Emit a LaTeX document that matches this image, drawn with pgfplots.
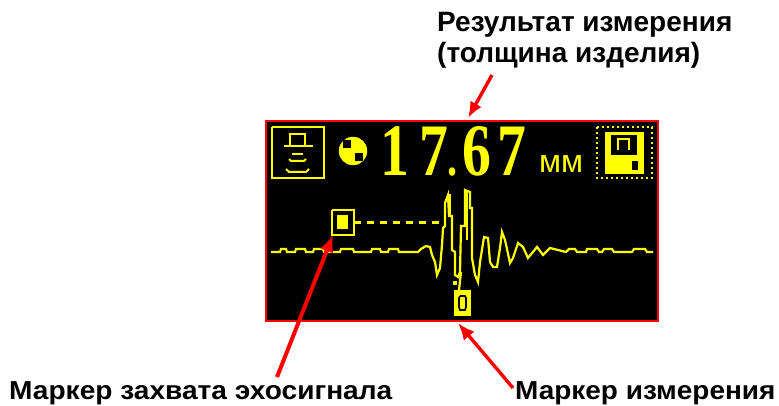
\documentclass[border=0pt]{standalone}
\usepackage{pgfplots}
\pgfplotsset{compat=1.18}
\usetikzlibrary{arrows.meta}
\usepackage{graphicx}
\usepackage{fontspec}
\setmainfont{Liberation Sans}
\newfontfamily\serifb{Liberation Serif}
\definecolor{yy}{RGB}{255,255,0}
\definecolor{rr}{RGB}{255,0,0}
\begin{document}
\begin{tikzpicture}
\begin{axis}[hide axis,scale only axis,width=779pt,height=406pt,xmin=0,xmax=779,ymin=0,ymax=406,y dir=reverse,clip=false,
  axis on top=false]
\addplot[fill=white,draw=none] coordinates {(0,0)(779,0)(779,406)(0,406)} --cycle;
% screen
\addplot[fill=black,draw=rr,line width=1.8pt] coordinates {(266,121)(658,121)(658,321)(266,321)} --cycle;
% left icon
\addplot[draw=yy,line width=2pt,no marks] coordinates {(272,127)(324,127)(324,178)(272,178)(272,127)};
\addplot[draw=yy,line width=2pt,no marks] coordinates {(290,146)(290,134)(305,134)(305,146)};
\addplot[draw=yy,line width=2pt,no marks] coordinates {(284,146)(313,146)};
\addplot[draw=yy,line width=2pt,no marks] coordinates {(292,154)(303,154)};
\addplot[draw=yy,line width=2pt,no marks] coordinates {(289,159)(291,161)(304,161)(306,159)};
\addplot[draw=yy,line width=2pt,no marks] coordinates {(286,169)(289,172)(306,172)(309,169)};
% ball
\addplot[only marks,mark=*,mark size=14pt,color=yy] coordinates {(353,151)};
\addplot[only marks,mark=square*,mark size=3.6pt,color=black] coordinates {(347,144)(359,157)};
% marker
\addplot[draw=yy,line width=2pt,no marks] coordinates {(332,210)(354,210)(354,235)(332,235)(332,210)};
\addplot[fill=yy,draw=none] coordinates {(337,215)(348,215)(348,229)(337,229)} --cycle;
\addplot[draw=yy,line width=2.4pt,dash pattern=on 7pt off 6pt,no marks] coordinates {(354,222.5)(445,222.5)};
% waveform
\addplot[draw=yy,line width=2.2pt,no marks] coordinates {
(271,252)(280,252)(281,249)(286,249)(287,252)(295,252)(296,249)(305,249)(306,252)(313,252)(314,249)(323,249)(324,252)(340,252)(341,249)(353,249)(354,252)
(371,252)(372,249)(380,249)(381,252)(388,252)(389,249)(398,249)(399,252)(418,252)(421,249)(426,246)(430,247)(432,255)(435,262)(437,275)(440,268)(442,245)(443,228)(445,226)
(445,203)(448,195)(449,216)(452,216)(452,250)(455,252)(455,275)(458,277)(460,272)(461,226)(465,226)(465,190)(470,192)(470,208)(472,208)(472,258)(475,275)(478,282)
(480,262)(484,237)(488,238)(490,262)(493,267)(497,267)(500,248)(502,232)(505,240)(510,263)(513,258)(518,243)(523,247)(528,258)(537,247)(543,255)(550,248)(558,250)(566,252)(569,249)(575,249)(577,252)(586,252)(587,249)(597,249)(599,252)(602,252)(604,249)(612,249)(614,252)(632,252)(634,249)(645,249)(647,252)(653,252)};
\addplot[draw=yy,line width=2.2pt,no marks] coordinates {(448,195)(450,195)(450,216)};
\addplot[draw=yy,line width=2.2pt,no marks] coordinates {(467,192)(467,240)};
\addplot[draw=yy,line width=2.2pt,no marks] coordinates {(461,272)(459,290)};
\addplot[only marks,mark=square*,mark size=1.6pt,color=yy] coordinates {(455,283)};
% zero marker
\addplot[fill=yy,draw=none] coordinates {(454,290)(471,290)(471,316)(454,316)} --cycle;
\addplot[draw=black,line width=1.6pt,no marks] coordinates {(460,296)(465,296)(466,298)(466,307)(465,310)(460,310)(459,307)(459,298)(460,296)};
% right icon
\addplot[draw=yy,line width=2.4pt,dash pattern=on 2.4pt off 2.6pt,no marks] coordinates {(597,127)(652,127)(652,178)(597,178)(597,127)};
\addplot[fill=yy,draw=none] coordinates {(605,132)(644,132)(644,174)(605,174)} --cycle;
\addplot[fill=black,draw=none] coordinates {(611,135)(637,135)(637,155)(611,155)} --cycle;
\addplot[draw=yy,line width=2pt,no marks] coordinates {(618,150)(618,139)(629,139)(629,150)};
\addplot[fill=black,draw=none] coordinates {(632,161)(638,161)(638,170)(632,170)} --cycle;
% reading
\node[anchor=base west,text=yy,inner sep=0pt,xscale=0.78] at (axis cs:380,176) {\serifb\bfseries\fontsize{74}{74}\selectfont 1\kern13pt 7\kern-1pt\scalebox{.7}{.}\kern7pt 6\kern8pt 7};
\node[anchor=base west,text=yy,inner sep=0pt] at (axis cs:539,173) {\fontsize{32}{32}\selectfont мм};
% arrows
\addplot[draw=rr,line width=3.4pt,no marks,-{Latex[length=16pt,width=13pt]}] coordinates {(492,75)(468,118)};
\addplot[draw=rr,line width=4pt,no marks,-{Latex[length=17pt,width=14pt]}] coordinates {(277,377)(333,235)};
\addplot[draw=rr,line width=3.4pt,no marks,-{Latex[length=17pt,width=14pt]}] coordinates {(513,388)(458,323)};
% labels
\node[anchor=base west,inner sep=0pt] at (axis cs:437,32) {\bfseries\fontsize{28}{28}\selectfont Результат измерения};
\node[anchor=base west,inner sep=0pt] at (axis cs:437,63) {\bfseries\fontsize{28}{28}\selectfont (толщина изделия)};
\node[anchor=base west,inner sep=0pt,xscale=1.08] at (axis cs:9,399.5) {\bfseries\fontsize{26}{26}\selectfont Маркер захвата эхосигнала};
\node[anchor=base west,inner sep=0pt,xscale=1.075] at (axis cs:515,399.5) {\bfseries\fontsize{26}{26}\selectfont Маркер измерения};
\end{axis}
\end{tikzpicture}
\end{document}
